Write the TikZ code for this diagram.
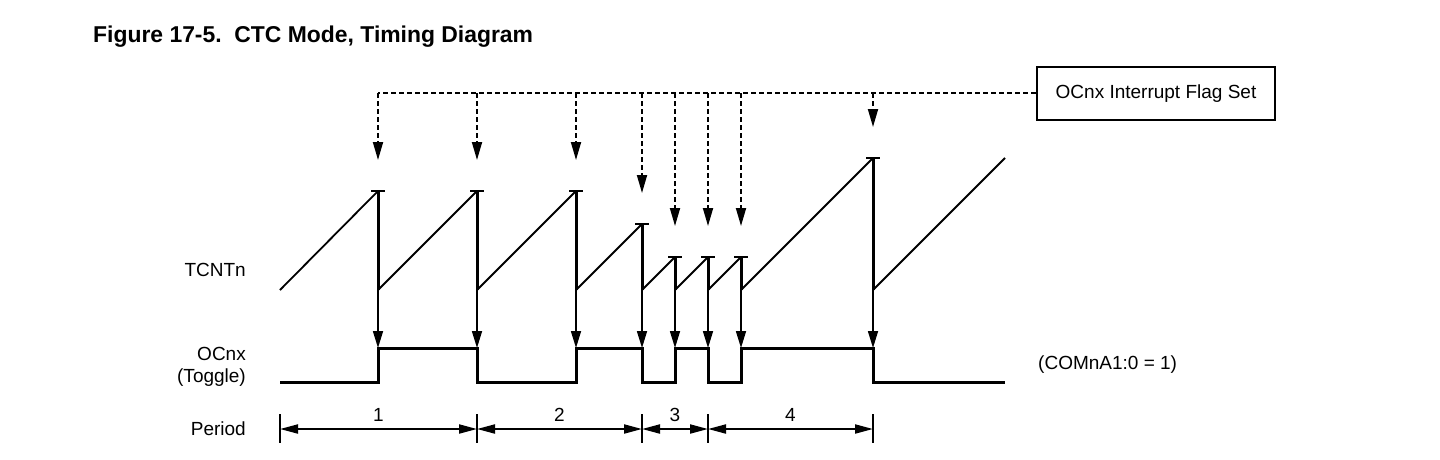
\documentclass[tikz,border=0pt]{standalone}
\usepackage{fontspec}
\setmainfont{Liberation Sans}
\usetikzlibrary{arrows.meta}
\begin{document}
\begin{tikzpicture}[x=1pt,y=-1pt,
  lbl/.style={font=\fontsize{19}{21.5}\selectfont, inner sep=0pt},
  ramp/.style={line width=1.8pt},
  drop/.style={line width=3pt},
  peaktick/.style={line width=2pt},
  flagarrow/.style={line width=1.8pt, dash pattern=on 5pt off 3pt, -{Triangle[length=18pt,width=10pt]}},
  cmparrow/.style={line width=1.6pt, -{Triangle[length=17pt,width=10pt]}},
  outline/.style={line width=3pt, line join=miter},
  periodarrow/.style={line width=2pt, {Triangle[length=18pt,width=9pt]}-{Triangle[length=18pt,width=9pt]}},
  ptick/.style={line width=1.6pt},
  flagbox/.style={draw, line width=2.5pt, minimum width=238pt, minimum height=53pt, inner sep=0pt, font=\fontsize{19}{21.5}\selectfont}
]
\useasboundingbox (0,0) rectangle (1440,459);

% title
\node[anchor=base west, inner sep=0pt, font=\fontsize{22.9}{26}\selectfont\bfseries] (title) at (93,42) {Figure 17-5.\ \ CTC Mode, Timing Diagram};

% row labels
\node[lbl, anchor=east] (tcnt) at (246,270) {TCNTn};
\node[lbl, anchor=east, align=right] (ocnx) at (246,367) {OCnx\\(Toggle)};
\node[lbl, anchor=east] (period) at (246,429) {Period};
\node[lbl, anchor=west] (com) at (1038,365) {(COMnA1:0 = 1)};

% flag box
\node[flagbox] (flag) at (1156,93.5) {OCnx Interrupt Flag Set};

% dashed flag line
\coordinate (dl) at (378,93);
\draw[line width=1.8pt, dash pattern=on 5pt off 3pt] (flag.west |- dl) -- (dl);

% reset points: x / peak y / previous reset x
\foreach \x/\py/\px in {378/191/280, 477/191/378, 576/191/477, 642/224/576, 675/257/642, 708/257/675, 741/257/708, 873/158/741}{
  \coordinate (top\x) at (\x,93);
  \coordinate (peak\x) at (\x,\py);
  \coordinate (base\x) at (\x,290);
  \coordinate (start\x) at (\px,290);
  \coordinate (hi\x) at (\x,348);
  \draw[flagarrow] (top\x) -- ++(0,{\py-31-93});
  \draw[ramp] (start\x) -- (peak\x);
  \draw[drop] (peak\x) -- (base\x);
  \draw[peaktick] ([xshift=-7pt]peak\x) -- ([xshift=7pt]peak\x);
  \draw[cmparrow] (base\x) -- (hi\x);
}
\coordinate (rampend) at (1005,158);
\draw[ramp] (base873) -- (rampend);

% OCnx waveform
\coordinate (ocstart) at (280,382);
\coordinate (ocend) at (1005,382);
\draw[outline] (ocstart) -| (hi378) -| (477,382) -| (hi576) -| (642,382) -| (hi675) -| (708,382) -| (hi741) -| (873,382) -- (ocend);

% period row
\foreach \x in {280,477,642,708,873}{
  \coordinate (pt\x) at (\x,429);
  \draw[ptick] (\x,414) -- (\x,443);
}
\foreach \a/\b/\n in {280/477/1, 477/642/2, 642/708/3, 708/873/4}{
  \draw[periodarrow] (pt\a) -- (pt\b);
  \node[lbl, anchor=base] (pn\n) at ({(\a+\b)/2},421) {\n};
}
\end{tikzpicture}
\end{document}
